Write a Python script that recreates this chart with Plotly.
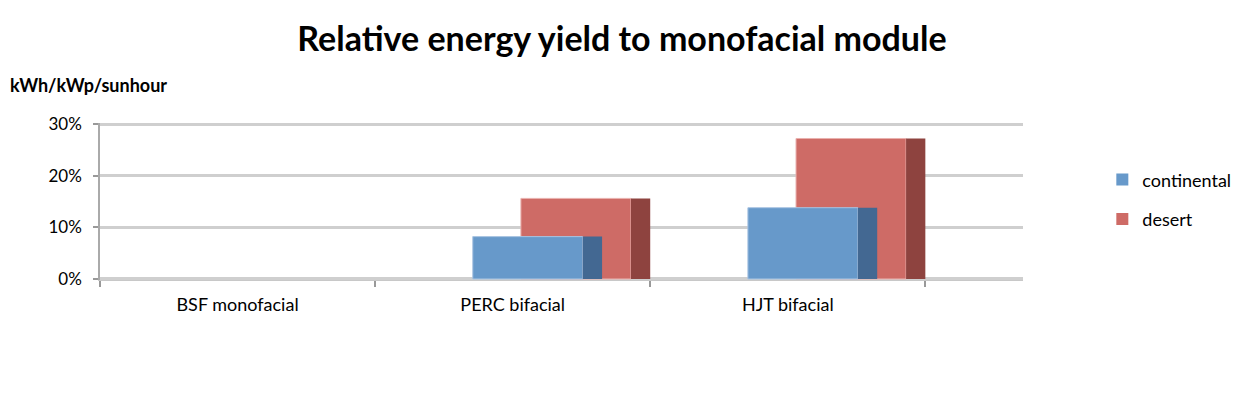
import plotly.graph_objects as go

categories = ["BSF monofacial", "PERC bifacial", "HJT bifacial"]
continental = [0.0, 0.082, 0.138]
desert = [0.0, 0.156, 0.272]
y_ticks = [0, 0.1, 0.2, 0.3]
y_tick_labels = ["0%", "10%", "20%", "30%"]

FONT = "Lato"
blue, blue_dark = "#6799CA", "#436892"
red, red_dark = "#CE6B66", "#8E433F"

# page body adds an 8px offset; margins are in figure pixels
OFF = 8
W, H = 1254, 398
L = 100 - OFF
T = 123 - OFF
R = W - (1022.7 - OFF)
B = H - (280.3 - OFF)
PW = W - L - R
PH = H - T - B


def px_to_paper_x(sx):
    return (sx - OFF - L) / PW


def px_to_paper_y(sy):
    return (H - B - (sy - OFF)) / PH


def edge_widths(vals):
    return [1 if v > 0 else 0 for v in vals]


fig = go.Figure()

# desert (behind)
fig.add_trace(go.Bar(x=categories, y=desert, name="desert", offset=0.03, width=0.40,
                     marker=dict(color=red, line=dict(color="#E9B1AE", width=edge_widths(desert))),
                     legendrank=2, legendgroup="d", hoverinfo="skip"))
fig.add_trace(go.Bar(x=categories, y=desert, offset=0.43, width=0.07, showlegend=False,
                     marker=dict(color=red_dark, line=dict(width=0)), legendgroup="d", hoverinfo="skip"))
# continental (front)
fig.add_trace(go.Bar(x=categories, y=continental, name="continental", offset=-0.145, width=0.40,
                     marker=dict(color=blue, line=dict(color="#A9C4E2", width=edge_widths(continental))),
                     legendrank=1, legendgroup="c", hoverinfo="skip"))
fig.add_trace(go.Bar(x=categories, y=continental, offset=0.255, width=0.07, showlegend=False,
                     marker=dict(color=blue_dark, line=dict(width=0)), legendgroup="c", hoverinfo="skip"))

fig.update_layout(
    width=W, height=H,
    margin=dict(l=L, r=R, t=T, b=B, autoexpand=False),
    paper_bgcolor="white", plot_bgcolor="white",
    barmode="overlay",
    font=dict(family=FONT, size=16, color="#111111"),
    title=dict(text="<b>Relative energy yield to monofacial module</b>",
               x=(622 - OFF) / W, xref="container", xanchor="center",
               y=0.922, yref="container", yanchor="middle",
               font=dict(family=FONT, size=34, color="black"), automargin=False),
    showlegend=True,
    legend=dict(x=px_to_paper_x(1102), xanchor="left", y=px_to_paper_y(199.5), yanchor="middle",
                font=dict(family=FONT, size=18, color="black"),
                tracegroupgap=13, traceorder="grouped", itemclick=False),
    annotations=[dict(text="<b>kWh/kWp/sunhour</b>", x=px_to_paper_x(8), xref="paper", xanchor="left",
                      y=px_to_paper_y(85), yref="paper", yanchor="middle", showarrow=False,
                      font=dict(family=FONT, size=18, color="black"))],
)

fig.update_xaxes(type="category", range=[-0.5, 2.855], tickson="boundaries", automargin=False,
                 ticks="outside", ticklen=6, tickcolor="#999999", tickwidth=1.5,
                 ticklabelstandoff=8,
                 showgrid=False, showline=True, linecolor="#C8C8C8", linewidth=1,
                 tickfont=dict(family=FONT, size=18, color="black"), zeroline=False)
fig.update_yaxes(range=[-0.002, 0.302], tickvals=y_ticks, ticktext=y_tick_labels, automargin=False,
                 ticks="outside", ticklen=5, tickcolor="#999999", tickwidth=1.5,
                 showgrid=True, gridcolor="#CFCFCF", gridwidth=2.5,
                 showline=True, linecolor="#AAAAAA", linewidth=1.5,
                 ticklabelstandoff=8, zeroline=False,
                 tickfont=dict(family=FONT, size=17, color="black"))

fig.write_html("out.html")
